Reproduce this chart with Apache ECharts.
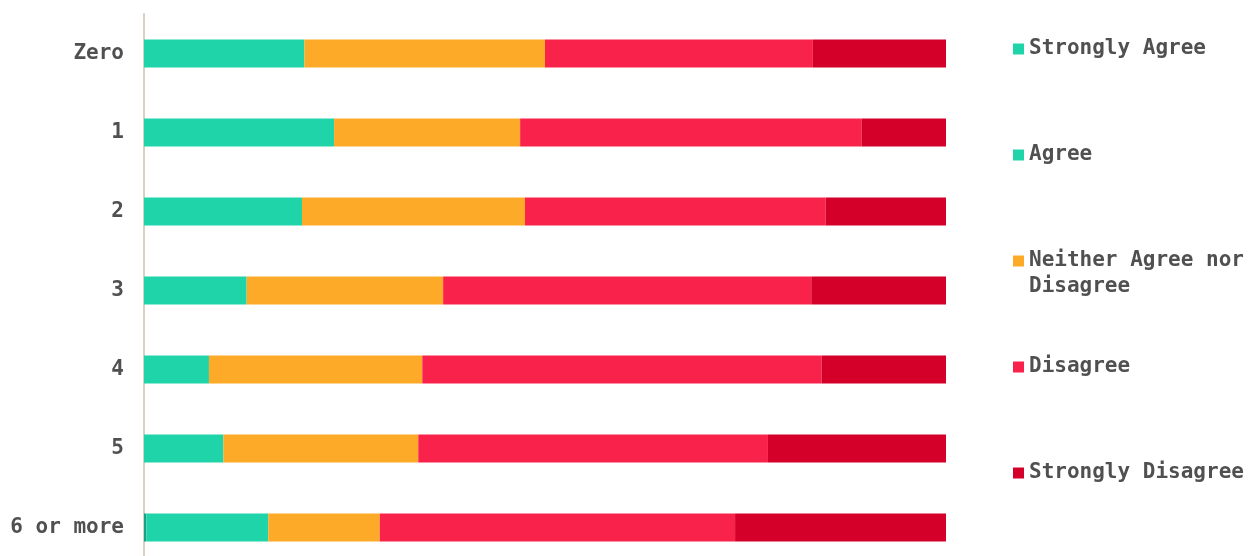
<!DOCTYPE html>
<html>
<head>
<meta charset="utf-8">
<script src="https://cdn.jsdelivr.net/npm/echarts@6/dist/echarts.min.js"></script>
<style>
html,body{margin:0;padding:0;background:#fff;}
#chart{width:1255px;height:556px;}
</style>
</head>
<body>
<div id="chart"></div>
<script>
const categories = ['Zero', '1', '2', '3', '4', '5', '6 or more'];
const seriesNames = ['Strongly Agree', 'Agree', 'Neither Agree nor Disagree', 'Disagree', 'Strongly Disagree'];
const stronglyAgree = [0, 0, 0, 0, 0, 0, 0.3];
const agree = [20.0, 23.7, 19.7, 12.8, 8.1, 9.9, 15.2];
const neither = [30.0, 23.2, 27.8, 24.5, 26.6, 24.3, 13.9];
const disagree = [33.4, 42.6, 37.5, 45.9, 49.8, 43.6, 44.3];
const stronglyDisagree = [16.6, 10.5, 15.0, 16.8, 15.5, 22.2, 26.3];
const legendTops = [31, 137, 217, 349, 455];

const colors = ['#17a283', '#20d4a9', '#fdaa28', '#f9224b', '#d4002a'];
const legendColors = ['#20d4a9', '#20d4a9', '#fdaa28', '#f9224b', '#d4002a'];
const values = [stronglyAgree, agree, neither, disagree, stronglyDisagree];
const font = '"DejaVu Sans Mono", "Liberation Mono", monospace';

const chart = echarts.init(document.getElementById('chart'));
const legends = seriesNames.map((name, i) => ({
  orient: 'vertical',
  left: 1008,
  top: legendTops[i],
  itemWidth: 11,
  itemHeight: 11,
  icon: 'rect',
  selectedMode: false,
  data: [{ name: name, itemStyle: { color: legendColors[i] } }],
  formatter: n => n === 'Neither Agree nor Disagree' ? ' \nNeither Agree nor\nDisagree' : n,
  textStyle: { fontFamily: font, fontSize: 21, fontWeight: 'bold', color: '#505050', lineHeight: 26 }
}));

chart.setOption({
  animation: false,
  legend: legends,
  grid: { left: 144, top: 14, width: 802, height: 553, containLabel: false, outerBoundsMode: 'none' },
  xAxis: {
    type: 'value', min: 0, max: 100, show: false
  },
  yAxis: {
    type: 'category',
    inverse: true,
    data: categories,
    axisLine: { show: true, lineStyle: { color: '#d9d0c1', width: 2 } },
    axisTick: { show: false },
    axisLabel: { fontFamily: font, fontSize: 21, fontWeight: 'bold', color: '#505050', margin: 20, padding: [4, 0, 0, 0] }
  },
  series: seriesNames.map((name, i) => ({
    name: name,
    type: 'bar',
    stack: 'total',
    barWidth: 28,
    data: values[i],
    itemStyle: { color: colors[i] }
  }))
});
</script>
</body>
</html>
